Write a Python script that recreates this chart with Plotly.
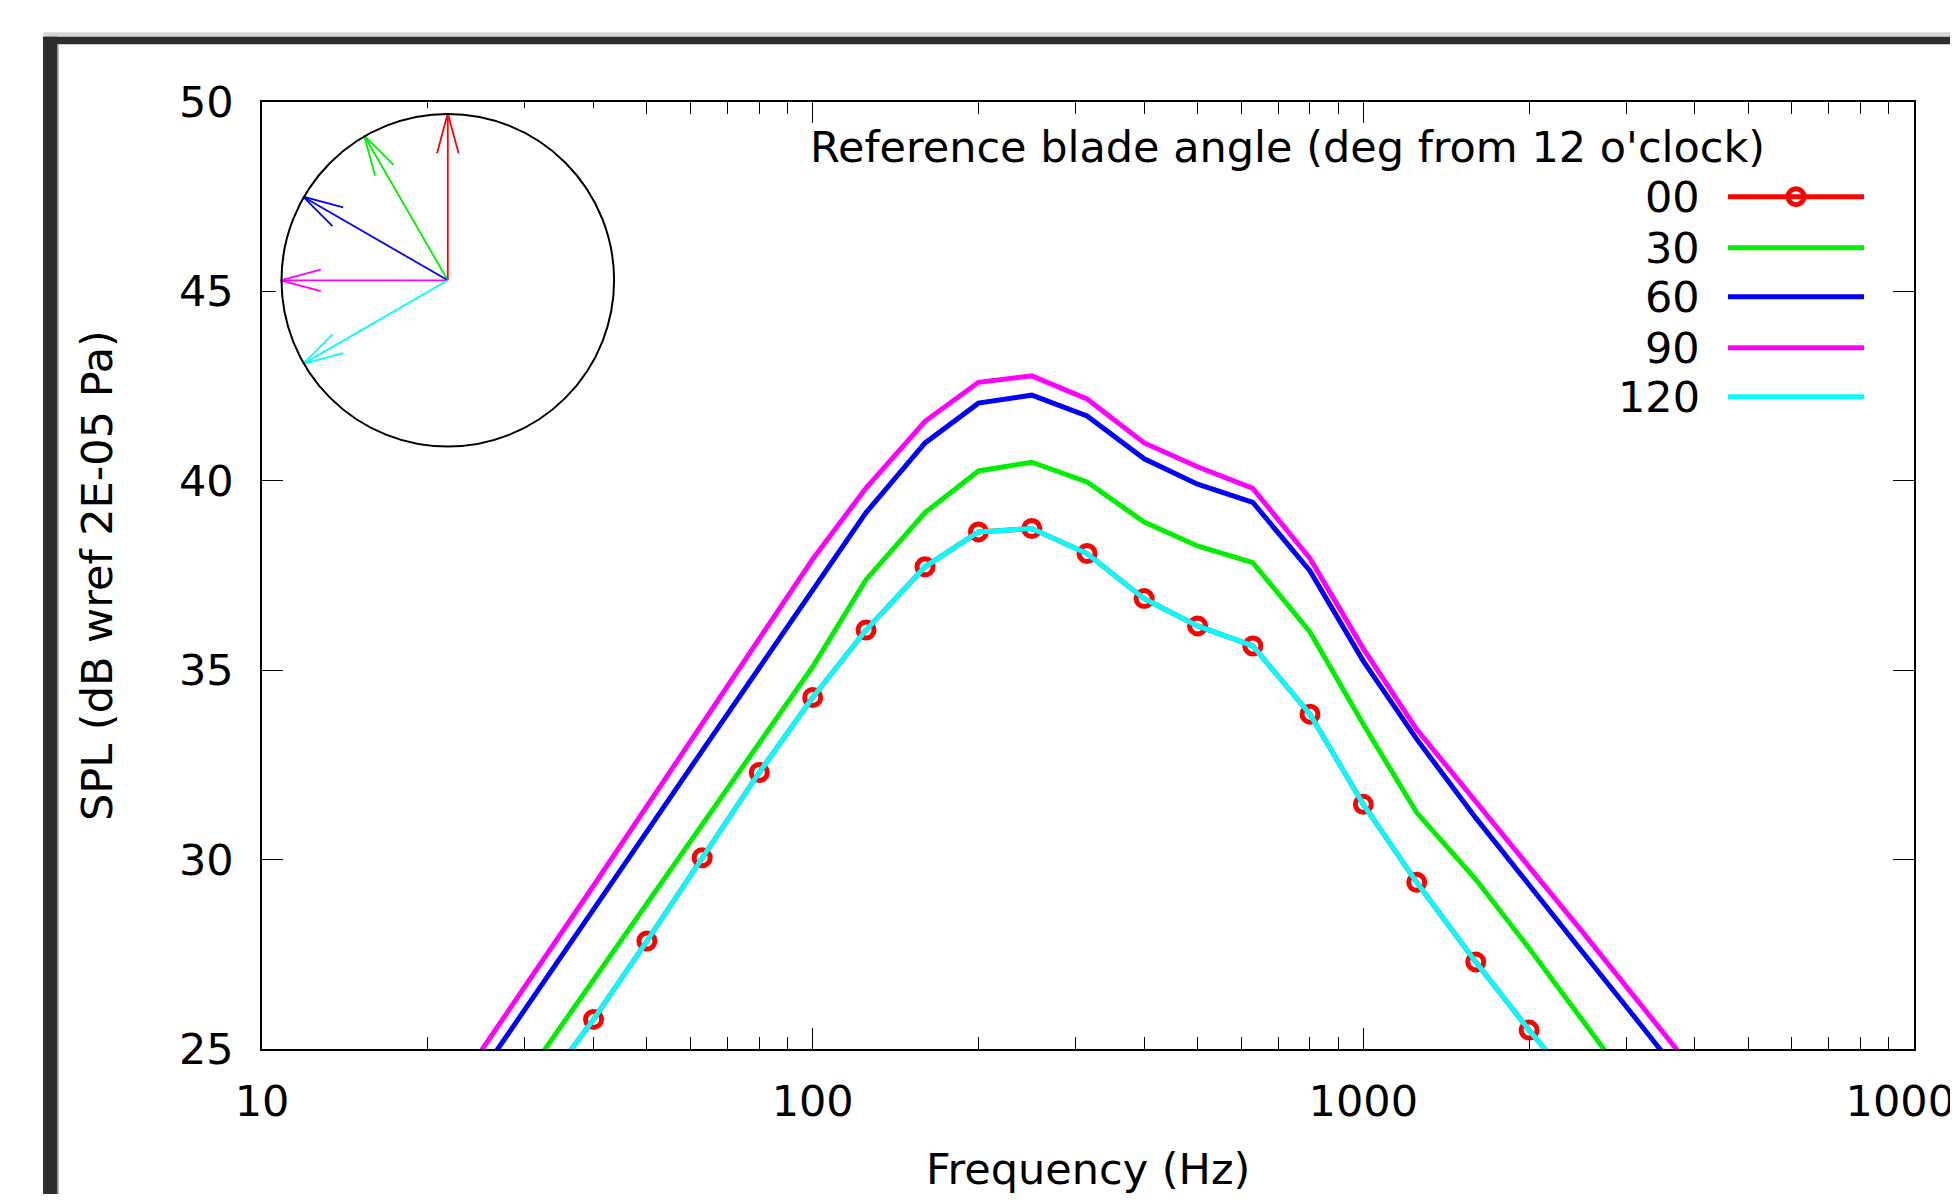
import math
import plotly.graph_objects as go

# ---------------- data ----------------
freq_hz = [25, 31.5, 40, 50, 63, 80, 100, 125, 160, 200, 250, 315, 400, 500,
           630, 800, 1000, 1250, 1600, 2000, 2500, 3150, 4000]

spl_00 = [None, 23.75, 25.78, 27.85, 30.05, 32.30, 34.28, 36.06, 37.73, 38.65, 38.74,
          38.08, 36.89, 36.17, 35.64, 33.84, 31.46, 29.40, 27.30, 25.50, 23.81, None, None]
spl_30 = [None, 24.67, 26.82, 28.84, 30.92, 33.07, 35.09, 37.39, 39.16, 40.26, 40.49,
          39.97, 38.91, 38.28, 37.84, 36.01, 33.57, 31.24, 29.48, 27.66, 25.76, 23.79, None]
spl_60 = [24.36, 26.47, 28.66, 30.74, 32.87, 35.07, 37.14, 39.16, 41.00, 42.05, 42.26,
          41.71, 40.58, 39.91, 39.43, 37.62, 35.24, 33.18, 31.10, 29.31, 27.56, 25.74, 23.83]
spl_90 = [24.95, 27.07, 29.31, 31.41, 33.57, 35.81, 37.93, 39.81, 41.57, 42.60, 42.77,
          42.16, 41.00, 40.37, 39.80, 37.95, 35.57, 33.44, 31.51, 29.81, 28.09, 26.30, 24.39]
spl_120 = [None, 23.75, 25.78, 27.85, 30.05, 32.30, 34.28, 36.06, 37.73, 38.65, 38.74,
           38.08, 36.89, 36.17, 35.64, 33.84, 31.46, 29.40, 27.30, 25.50, 23.81, None, None]

series_labels = ["00", "30", "60", "90", "120"]
blade_angles_deg = [0, 30, 60, 90, 120]
series_values = [spl_00, spl_30, spl_60, spl_90, spl_120]
series_colors = ["#ff0000", "#00ee00", "#0000ff", "#ff00ff", "#00ffff"]

x_tick_vals = [10, 100, 1000, 10000]
x_tick_text = ["10", "100", "1000", "10000"]
x_minor_vals = [m * d for d in (10, 100, 1000) for m in range(2, 10)]
y_tick_vals = [25, 30, 35, 40, 45, 50]
y_tick_text = ["25", "30", "35", "40", "45", "50"]

legend_title = "Reference blade angle (deg from 12 o'clock)"
x_title = "Frequency (Hz)"
y_title = "SPL (dB wref 2E-05 Pa)"

# ---------------- layout geometry (page pixels) ----------------
PAGE_W, PAGE_H = 1958, 1202
OFF = 8  # page body margin
W, H = PAGE_W - 2 * OFF, PAGE_H - 2 * OFF
L, R, T, B = 262, 1914, 102, 1049
FONT = "DejaVu Sans"
FS = 43


def pxx(x):
    return (x - L) / (R - L)


def pxy(y):
    return (B - y) / (B - T)


fig = go.Figure()

LW = 5
for lab, vals, col in zip(series_labels, series_values, series_colors):
    if lab == "00":
        fig.add_trace(go.Scatter(
            x=freq_hz, y=vals, mode="lines+markers", name=lab,
            line=dict(color=col, width=LW),
            marker=dict(symbol="circle-open", size=16, color=col,
                        line=dict(color=col, width=5)),
            xaxis="x", yaxis="y"))
    else:
        fig.add_trace(go.Scatter(
            x=freq_hz, y=vals, mode="lines", name=lab,
            line=dict(color=col, width=LW), xaxis="x", yaxis="y"))

# ---------------- inset: blade-angle diagram ----------------
cx, cy, rad = 447.8, 280.3, 166.3
half = 172.0
rng = half / rad
head_len = 0.25
head_ang = math.radians(15)
for ang, col in zip(blade_angles_deg, series_colors):
    a = math.radians(ang)
    dx, dy = -math.sin(a), math.cos(a)
    tx, ty = dx * 1.005, dy * 1.005
    bx, by = -dx, -dy
    hx1 = tx + head_len * (bx * math.cos(head_ang) - by * math.sin(head_ang))
    hy1 = ty + head_len * (bx * math.sin(head_ang) + by * math.cos(head_ang))
    hx2 = tx + head_len * (bx * math.cos(-head_ang) - by * math.sin(-head_ang))
    hy2 = ty + head_len * (bx * math.sin(-head_ang) + by * math.cos(-head_ang))
    fig.add_trace(go.Scatter(
        x=[0, tx, None, hx1, tx, hx2], y=[0, ty, None, hy1, ty, hy2],
        mode="lines", line=dict(color=col, width=1.8),
        xaxis="x2", yaxis="y2", showlegend=False, hoverinfo="skip"))

shapes = []
shapes.append(dict(type="circle", xref="x2", yref="y2", x0=-1, y0=-1, x1=1, y1=1,
                   line=dict(color="black", width=2)))

# ---------------- window frame ----------------
shapes.append(dict(type="rect", xref="paper", yref="paper",
                   x0=pxx(43.5), x1=pxx(PAGE_W + 20), y0=pxy(36.7), y1=pxy(32.3),
                   fillcolor="#d4d4d4", line=dict(width=0), layer="above"))
shapes.append(dict(type="rect", xref="paper", yref="paper",
                   x0=pxx(43.5), x1=pxx(PAGE_W + 20), y0=pxy(44.3), y1=pxy(36.7),
                   fillcolor="#2d2d2d", line=dict(width=0), layer="above"))
shapes.append(dict(type="rect", xref="paper", yref="paper",
                   x0=pxx(43.0), x1=pxx(57.5), y0=pxy(PAGE_H + 20), y1=pxy(36.7),
                   fillcolor="#2d2d2d", line=dict(width=0), layer="above"))
shapes.append(dict(type="rect", xref="paper", yref="paper",
                   x0=pxx(57.5), x1=pxx(58.7), y0=pxy(PAGE_H + 20), y1=pxy(44.3),
                   fillcolor="#9a9a9a", line=dict(width=0), layer="above"))

annotations = []
# ---------------- manual key (gnuplot style) ----------------
annotations.append(dict(text=legend_title, xref="paper", yref="paper",
                        x=pxx(1287), y=pxy(147),
                        xanchor="center", yanchor="middle",
                        showarrow=False, font=dict(family=FONT, size=FS, color="black")))
row_y = [196.7, 247.7, 296.7, 347.7, 396.7]
for lab, col, ry in zip(series_labels, series_colors, row_y):
    annotations.append(dict(text=lab, xref="paper", yref="paper",
                            x=pxx(1702), y=pxy(ry), xanchor="right", yanchor="middle",
                            showarrow=False, font=dict(family=FONT, size=FS, color="black")))
    shapes.append(dict(type="line", xref="paper", yref="paper",
                       x0=pxx(1728), x1=pxx(1864), y0=pxy(ry), y1=pxy(ry),
                       line=dict(color=col, width=LW)))
    if lab == "00":
        r = 8
        shapes.append(dict(type="circle", xref="paper", yref="paper",
                           x0=pxx(1796 - r), x1=pxx(1796 + r),
                           y0=pxy(ry + r), y1=pxy(ry - r),
                           line=dict(color=col, width=5)))

# axis titles
annotations.append(dict(text=x_title, xref="paper", yref="paper",
                        x=pxx(1088), y=pxy(1169), xanchor="center", yanchor="middle",
                        showarrow=False, font=dict(family=FONT, size=FS, color="black")))
annotations.append(dict(text=y_title, xref="paper", yref="paper",
                        x=pxx(97), y=pxy(576), xanchor="center", yanchor="middle",
                        textangle=-90, showarrow=False,
                        font=dict(family=FONT, size=FS, color="black")))

fig.update_layout(
    width=W, height=H,
    margin=dict(l=L - OFF, r=W + OFF - R, t=T - OFF, b=H + OFF - B, pad=0),
    paper_bgcolor="white", plot_bgcolor="white",
    showlegend=False,
    font=dict(family=FONT, size=FS, color="black"),
    xaxis=dict(type="log", range=[1, 4], tickmode="array",
               tickvals=x_tick_vals, ticktext=x_tick_text,
               ticks="inside", ticklen=21, tickwidth=1.2, tickcolor="black",
               showline=True, linecolor="black", linewidth=1.5, mirror="allticks",
               showgrid=False, zeroline=False, automargin=False,
               ticklabelstandoff=14, ticklabeloverflow="allow",
               tickfont=dict(family=FONT, size=FS, color="black"),
               minor=dict(tickmode="array", tickvals=x_minor_vals, ticks="inside",
                          ticklen=12, tickwidth=1.2, tickcolor="black", showgrid=False)),
    yaxis=dict(range=[25, 50], tickmode="array", tickvals=y_tick_vals, ticktext=y_tick_text,
               ticks="inside", ticklen=21, tickwidth=1.2, tickcolor="black",
               showline=True, linecolor="black", linewidth=1.5, mirror="allticks",
               showgrid=False, zeroline=False, automargin=False,
               ticklabelstandoff=18,
               tickfont=dict(family=FONT, size=FS, color="black")),
    xaxis2=dict(domain=[pxx(cx - half), pxx(cx + half)], range=[-rng, rng],
                visible=False, anchor="y2", fixedrange=True),
    yaxis2=dict(domain=[pxy(cy + half), pxy(cy - half)], range=[-rng, rng],
                visible=False, anchor="x2", fixedrange=True),
    shapes=shapes,
    annotations=annotations,
)

fig.write_html("out.html")
